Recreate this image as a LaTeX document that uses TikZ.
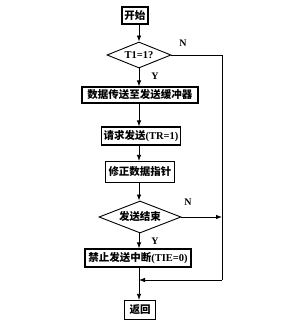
\documentclass[tikz,border=0pt]{standalone}
\usepackage{fontspec}
\setmainfont{Liberation Serif}
\newfontfamily\cjk{Noto Sans CJK SC}
\usetikzlibrary{arrows.meta,shapes.geometric}

\begin{document}
\begin{tikzpicture}[
  x=1pt,
  y=-1pt,
  stepbox/.style={
    rectangle,draw=black,line width=1.2pt,fill=white,
    minimum height=17pt,inner sep=1pt,font=\fontsize{10.5}{12}\selectfont\bfseries
  },
  decision/.style={
    diamond,draw=black,line width=0.9pt,fill=white,aspect=2.5,
    inner sep=0pt,font=\fontsize{10.5}{12}\selectfont\bfseries
  },
  flow/.style={
    -{Latex[length=6pt,width=4.5pt]},line width=0.8pt,draw=black
  },
  wire/.style={line width=0.8pt,draw=black},
  branch/.style={font=\fontsize{10}{12}\selectfont\bfseries}
]
  \useasboundingbox (0,0) rectangle (281,333);

  % main column
  \coordinate (column) at (139,0);
  \node[stepbox,minimum width=26pt] (start) at (135,15.5) {\cjk 开始};
  \node[decision,minimum width=64pt,minimum height=26pt] (test) at (139,55) {T1=1?};
  \node[stepbox,minimum width=116pt,minimum height=16pt] (load) at (140,95) {\cjk 数据传送至发送缓冲器};
  \node[stepbox,minimum width=79pt,minimum height=18pt] (request) at (141,136) {{\cjk 请求发送}(TR=1)};
  \node[stepbox,minimum width=69pt,minimum height=21pt] (pointer) at (140,172) {\cjk 修正数据指针};
  \node[decision,minimum width=82pt,minimum height=32pt] (done) at (140,217) {\cjk 发送结束};
  \node[stepbox,minimum width=106pt,minimum height=18pt] (stop) at (138,258) {{\cjk 禁止发送中断}(TIE=0)};
  \node[stepbox,minimum width=31pt,minimum height=19pt] (ret) at (140,310) {\cjk 返回};

  % bypass line
  \coordinate (bypass-top) at (222,55);
  \coordinate (bypass-mid) at (222,217);
  \coordinate (bypass-bot) at (222,280);
  \coordinate (merge) at (139,280);

  \draw[flow] (start.south -| column) -- (test.north -| column);
  \draw[flow] (test.south -| column) -- (load.north -| column);
  \draw[flow] (load.south -| column) -- (request.north -| column);
  \draw[flow] (request.south -| column) -- (pointer.north -| column);
  \draw[flow] (pointer.south -| column) -- (done.north -| column);
  \draw[flow] (done.south -| column) -- (stop.north -| column);
  \draw[flow] (stop.south -| column) -- (ret.north -| column);
  \draw[wire] (test.east) -- (bypass-top) -- (bypass-bot);
  \draw[flow] (done.east) -- (bypass-mid);
  \draw[flow] (bypass-bot) -- (merge);

  % branch labels
  \node[branch] (test-n) at (183,43) {N};
  \node[branch] (test-y) at (155,76) {Y};
  \node[branch] (done-n) at (188,202) {N};
  \node[branch] (done-y) at (155,241) {Y};
\end{tikzpicture}
\end{document}
